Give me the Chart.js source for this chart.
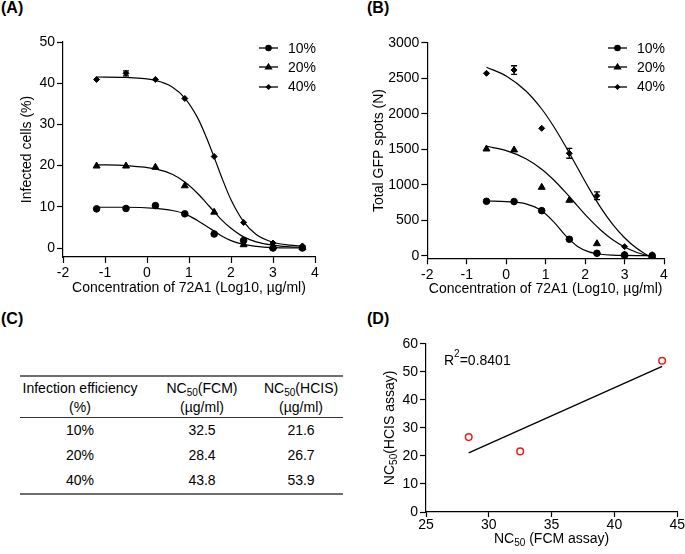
<!DOCTYPE html>
<html lang="en">
<head>
<meta charset="UTF-8">
<title>72A1 neutralization: FCM vs HCIS</title>
<script src="https://cdn.jsdelivr.net/npm/chart.js@4"></script>
<style>
    body { margin: 0; background: #fff; color: #000; font-family: "Liberation Sans", Arial, sans-serif; }
    #page { position: relative; width: 685px; height: 554px; overflow: hidden; background: #fff; }
    .panel { position: absolute; }
    .tag { position: absolute; font-weight: bold; font-size: 16px; line-height: 16px; }
    .legend { position: absolute; font-size: 14px; }
    .legend div { position: relative; height: 19.2px; line-height: 19px; }
    .legend svg { position: absolute; left: 0; top: 4.5px; }
    .legend span { position: absolute; left: 29px; top: 0; }
    #tbl { position: absolute; left: 20px; top: 375px; width: 323px; border-collapse: collapse; table-layout: fixed; font-size: 14px; }
    #tbl thead tr { border-top: 2px solid #6e6e6e; border-bottom: 1.5px solid #333; }
    #tbl tbody tr:last-child { border-bottom: 2px solid #6e6e6e; }
    #tbl th { font-weight: normal; line-height: 19px; padding: 2px 0 0 0; text-align: center; }
    #tbl td { height: 25px; line-height: 25px; padding: 0; text-align: center; }
    #tbl .c3 { padding-right: 5px; }
    #tbl sub { font-size: 10px; vertical-align: -3px; line-height: 0; }
</style>
</head>
<body>
<div id="page">
    <div class="tag" style="left:1px; top:0px">(A)</div>
    <div class="tag" style="left:367px; top:0px">(B)</div>
    <div class="tag" style="left:1px; top:310.7px">(C)</div>
    <div class="tag" style="left:367px; top:310.7px">(D)</div>

    <canvas id="chartA" class="panel" width="325" height="301" style="left:15px; top:0px"></canvas>
    <canvas id="chartB" class="panel" width="318" height="302" style="left:367px; top:0px"></canvas>
    <canvas id="chartD" class="panel" width="307" height="254" style="left:378px; top:300px"></canvas>

    <div class="legend" id="legendA" style="left:259px; top:38.8px"></div>
    <div class="legend" id="legendB" style="left:608px; top:38.8px"></div>

    <table id="tbl">
        <colgroup><col style="width:120px"><col style="width:124px"><col style="width:79px"></colgroup>
        <thead>
            <tr>
                <th>Infection efficiency<br>(%)</th>
                <th>NC<sub>50</sub>(FCM)<br>(µg/ml)</th>
                <th class="c3">NC<sub>50</sub>(HCIS)<br>(µg/ml)</th>
            </tr>
        </thead>
        <tbody id="tblBody"></tbody>
    </table>
</div>

<script>
    // ---- data ----
    const seriesNames = ['10%', '20%', '40%'];

    // (A) flow cytometry, infected cells (%)
    const doseA = [-1.2, -0.5, 0.2, 0.9, 1.6, 2.3, 3.0, 3.7];
    const fcm10 = [9.5, 9.6, 10.3, 8.3, 3.4, 1.8, 0.0, 0.0];
    const fcm20 = [19.9, 19.9, 19.6, 15.1, 8.7, 0.8, 0.3, 0.1];
    const fcm40 = [40.9, 42.4, 40.9, 36.3, 22.2, 6.2, 1.2, 0.5];
    const fcm40Err = [0, 0.6, 0, 0, 0, 0, 0, 0];
    // fitted curves
    const fitXA = [-1.2, -0.5, 0.2, 0.6, 0.9, 1.2, 1.4, 1.6, 1.8, 2.0, 2.3, 2.6, 3.0, 3.4, 3.7];
    const fitA10 = [9.9, 9.9, 9.6, 9.1, 8.3, 6.7, 5.4, 4.1, 2.8, 1.8, 0.9, 0.4, 0.1, 0.0, 0.0];
    const fitA20 = [20.2, 20.0, 19.2, 17.9, 16.0, 13.3, 11.1, 8.8, 6.6, 4.8, 2.7, 1.5, 0.7, 0.3, 0.2];
    const fitA40 = [41.5, 41.4, 40.7, 39.1, 36.4, 31.7, 27.2, 22.0, 16.6, 11.7, 6.4, 3.3, 1.4, 0.7, 0.5];
    const ticksYA = [0, 10, 20, 30, 40, 50];

    // (B) high content imaging, total GFP spots
    const doseB = [-0.5, 0.2, 0.9, 1.6, 2.3, 3.0, 3.7];
    const hcis10 = [766, 762, 634, 231, 34, 10, 0];
    const hcis20 = [1503, 1489, 963, 780, 169, 10, 0];
    const hcis40 = [2569, 2615, 1794, 1442, 845, 127, 0];
    const hcis40Err = [0, 60, 0, 70, 55, 0, 0];
    const fitXB = [-0.5, 0.0, 0.5, 0.9, 1.2, 1.5, 1.8, 2.1, 2.4, 2.7, 3.0, 3.3, 3.6, 3.7];
    const fitB10 = [770, 762, 730, 633, 479, 285, 134, 54, 20, 7, 3, 1, 0, 0];
    const fitB20 = [1541, 1480, 1366, 1218, 1069, 894, 706, 521, 358, 224, 123, 49, -1, -14];
    const fitB40 = [2655, 2531, 2319, 2066, 1823, 1544, 1245, 948, 674, 442, 253, 107, 0, -29];
    const ticksYB = [0, 500, 1000, 1500, 2000, 2500, 3000];

    // (C) / (D) NC50 values
    const nc50FCM = [32.5, 28.4, 43.8];
    const nc50HCIS = [21.6, 26.7, 53.9];
    const regX = [28.4, 43.8];
    const regY = [21.1, 51.9];
    const rSquared = '0.8401';

    const FONT = '"Liberation Sans", Arial, sans-serif';
    Chart.defaults.font.family = FONT;
    Chart.defaults.font.size = 14;
    Chart.defaults.color = '#000';

    const pts = (xs, ys) => xs.map((x, i) => ({ x: x, y: ys[i] }));

    // error bars for datasets that carry an `errors` array
    const errorBars = {
        id: 'errorBars',
        afterDatasetsDraw(chart) {
            const ctx = chart.ctx, sx = chart.scales.x, sy = chart.scales.y;
            chart.data.datasets.forEach(ds => {
                if (!ds.errors) return;
                ds.data.forEach((p, i) => {
                    const e = ds.errors[i];
                    if (!e) return;
                    const px = sx.getPixelForValue(p.x);
                    const t = sy.getPixelForValue(p.y + e), b = sy.getPixelForValue(p.y - e);
                    ctx.save();
                    ctx.strokeStyle = '#000';
                    ctx.lineWidth = 1.3;
                    ctx.beginPath();
                    ctx.moveTo(px, t); ctx.lineTo(px, b);
                    ctx.moveTo(px - 3, t); ctx.lineTo(px + 3, t);
                    ctx.moveTo(px - 3, b); ctx.lineTo(px + 3, b);
                    ctx.stroke();
                    ctx.restore();
                });
            });
        }
    };

    function curve(xs, ys) {
        return {
            data: pts(xs, ys), showLine: true, pointRadius: 0,
            borderColor: '#000', borderWidth: 1.2, cubicInterpolationMode: 'monotone'
        };
    }
    function marks(xs, ys, style, r) {
        return {
            data: pts(xs, ys), showLine: false, pointStyle: style, pointRadius: r,
            backgroundColor: '#000', borderColor: '#000', borderWidth: 1
        };
    }

    const axisGrid = { drawOnChartArea: false, drawTicks: true, tickLength: 6, color: '#000', tickWidth: 1.2 };
    const axisBorder = { display: true, color: '#000', width: 1.2 };

    function doseChart(id, c) {
        const d40 = marks(c.x, c.y40, 'rectRot', 3);
        d40.errors = c.err40;
        return new Chart(document.getElementById(id), {
            type: 'scatter',
            data: {
                datasets: [
                    curve(c.fitX, c.fit10), curve(c.fitX, c.fit20), curve(c.fitX, c.fit40),
                    marks(c.x, c.y10, 'circle', 3.3), marks(c.x, c.y20, 'triangle', 4), d40
                ]
            },
            options: {
                responsive: false,
                animation: false,
                layout: { padding: { top: c.top, right: c.right, left: 0, bottom: 0 } },
                plugins: { legend: { display: false }, tooltip: { enabled: false } },
                scales: {
                    x: {
                        min: -2, max: 4,
                        ticks: { stepSize: 1, padding: 2, callback: v => String(v) },
                        grid: axisGrid, border: axisBorder,
                        title: { display: true, text: 'Concentration of 72A1 (Log10, µg/ml)' },
                        afterFit: s => { s.height = c.xh; }
                    },
                    y: {
                        min: c.ymin, max: c.ymax,
                        afterBuildTicks: s => { s.ticks = c.yTicks.map(v => ({ value: v })); },
                        ticks: { padding: 2, callback: v => String(v) },
                        grid: axisGrid, border: axisBorder,
                        title: { display: true, text: c.yTitle },
                        afterFit: s => { s.width = c.yw; }
                    }
                }
            },
            plugins: [errorBars]
        });
    }

    doseChart('chartA', {
        x: doseA, y10: fcm10, y20: fcm20, y40: fcm40, err40: fcm40Err,
        fitX: fitXA, fit10: fitA10, fit20: fitA20, fit40: fitA40,
        ymin: -2.18, ymax: 50, yTicks: ticksYA, yTitle: 'Infected cells (%)',
        top: 42, right: 25, yw: 48, xh: 44
    });

    doseChart('chartB', {
        x: doseB, y10: hcis10, y20: hcis20, y40: hcis40, err40: hcis40Err,
        fitX: fitXB, fit10: fitB10, fit20: fitB20, fit40: fitB40,
        ymin: -37, ymax: 3000, yTicks: ticksYB, yTitle: 'Total GFP spots (N)',
        top: 42.7, right: 21, yw: 60.3, xh: 43.7
    });

    // text with sub/superscript pieces: [text, baseline offset]
    function drawRich(ctx, parts, x, y, align) {
        const big = '14px ' + FONT, small = '10px ' + FONT;
        let w = 0;
        parts.forEach(([t, k]) => { ctx.font = k ? small : big; w += ctx.measureText(t).width; });
        let cx = align === 'center' ? x - w / 2 : x;
        ctx.textAlign = 'left';
        ctx.textBaseline = 'middle';
        parts.forEach(([t, k]) => {
            ctx.font = k ? small : big;
            ctx.fillText(t, cx, y + k);
            cx += ctx.measureText(t).width;
        });
    }

    const corrLabels = {
        id: 'corrLabels',
        afterDraw(chart) {
            const ctx = chart.ctx, a = chart.chartArea;
            ctx.save();
            ctx.fillStyle = '#000';
            drawRich(ctx, [['NC', 0], ['50', 4], [' (FCM assay)', 0]], (a.left + a.right) / 2, 239, 'center');
            drawRich(ctx, [['R', 0], ['2', -7], ['=' + rSquared, 0]], a.left + 18, 61, 'left');
            ctx.translate(12, (a.top + a.bottom) / 2);
            ctx.rotate(-Math.PI / 2);
            drawRich(ctx, [['NC', 0], ['50', 4], ['(HCIS assay)', 0]], 0, 0, 'center');
            ctx.restore();
        }
    };

    const dGrid = { drawOnChartArea: false, drawTicks: true, tickLength: 5, color: '#000', tickWidth: 1.2 };

    new Chart(document.getElementById('chartD'), {
        type: 'scatter',
        data: {
            datasets: [
                {
                    data: pts(regX, regY), showLine: true, pointRadius: 0,
                    borderColor: '#000', borderWidth: 1.3
                },
                {
                    data: pts(nc50FCM, nc50HCIS), showLine: false, pointStyle: 'circle', pointRadius: 3.3,
                    borderColor: '#f01c1c', backgroundColor: 'rgba(255,255,255,0)', borderWidth: 1.5
                }
            ]
        },
        options: {
            responsive: false,
            animation: false,
            layout: { padding: { top: 43.7, right: 7.7, left: 0, bottom: 0 } },
            plugins: { legend: { display: false }, tooltip: { enabled: false } },
            scales: {
                x: {
                    min: 25, max: 45,
                    ticks: { stepSize: 5, padding: 0, callback: v => String(v) },
                    grid: dGrid, border: axisBorder,
                    afterFit: s => { s.height = 42; }
                },
                y: {
                    min: 0, max: 60,
                    ticks: { stepSize: 10, padding: 2, callback: v => String(v) },
                    grid: axisGrid, border: axisBorder,
                    afterFit: s => { s.width = 48; }
                }
            }
        },
        plugins: [corrLabels]
    });

    // legends (line with marker + label)
    const markerSvg = [
        '<circle cx="9.5" cy="5" r="3.3" fill="#000"/>',
        '<polygon points="9.5,0.8 13.6,7.6 5.4,7.6" fill="#000"/>',
        '<polygon points="9.5,2 12.5,5 9.5,8 6.5,5" fill="#000"/>'
    ];
    ['legendA', 'legendB'].forEach(id => {
        document.getElementById(id).innerHTML = seriesNames.map((name, i) =>
            '<div><svg width="20" height="10"><line x1="0" y1="5" x2="19" y2="5" stroke="#000" stroke-width="1.3"/>' +
            markerSvg[i] + '</svg><span>' + name + '</span></div>').join('');
    });

    // table (C)
    document.getElementById('tblBody').innerHTML = seriesNames.map((name, i) =>
        '<tr><td>' + name + '</td><td>' + nc50FCM[i].toFixed(1) + '</td><td class="c3">' +
        nc50HCIS[i].toFixed(1) + '</td></tr>').join('');
</script>
</body>
</html>
